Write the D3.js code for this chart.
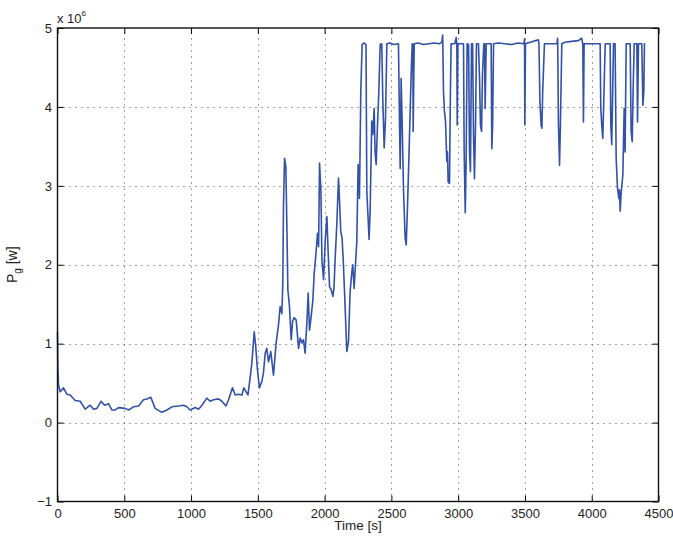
<!DOCTYPE html>
<html>
<head>
<meta charset="utf-8">
<script src="https://cdn.jsdelivr.net/npm/d3@7"></script>
<style>
  html, body { margin: 0; padding: 0; background: #fff; }
  svg { display: block; font-family: "Liberation Sans", Arial, Helvetica, sans-serif; }
</style>
</head>
<body>
<svg id="chart" width="673" height="542"></svg>
<script>
// Generator power time series: time [s] and power [×10^6 W]
const timeSec = [
  0, 3, 7.5, 20, 45, 70, 95, 132, 170, 207, 245, 270, 295, 327, 352, 382, 407, 432, 457, 507,
  532, 569, 607, 644, 669, 699, 731, 781, 819, 856, 906, 943, 969, 993, 1031, 1056, 1081, 1118, 1143, 1168,
  1206, 1231, 1261, 1281, 1310, 1331, 1355, 1381, 1395, 1426, 1443, 1455, 1473, 1484, 1497, 1512, 1530, 1542, 1555, 1567,
  1580, 1597, 1617, 1637, 1655, 1667, 1680, 1687, 1692, 1700, 1710, 1717, 1725, 1737, 1750, 1760, 1772, 1787, 1805, 1817,
  1830, 1842, 1854, 1867, 1877, 1887, 1899, 1912, 1922, 1935, 1947, 1955, 1962, 1972, 1980, 1992, 2005, 2017, 2025, 2037,
  2050, 2062, 2070, 2079, 2091, 2104, 2111, 2121, 2131, 2141, 2154, 2166, 2179, 2191, 2204, 2211, 2221, 2231, 2241, 2251,
  2261, 2271, 2281, 2292, 2303, 2310, 2316, 2323, 2333, 2341, 2353, 2361, 2371, 2378, 2386, 2396, 2406, 2416, 2428, 2436,
  2446, 2456, 2466, 2490, 2520, 2553, 2561, 2566, 2573, 2581, 2591, 2603, 2611, 2621, 2631, 2641, 2648, 2656, 2661, 2663,
  2671, 2700, 2740, 2780, 2820, 2860, 2878, 2884, 2890, 2897, 2905, 2915, 2920, 2925, 2935, 2942, 2947, 2975, 2985, 2990,
  2993, 2998, 3040, 3045, 3053, 3060, 3067, 3078, 3085, 3092, 3100, 3108, 3115, 3122, 3130, 3137, 3152, 3160, 3167, 3175,
  3182, 3192, 3197, 3202, 3210, 3247, 3252, 3258, 3265, 3300, 3350, 3400, 3450, 3492, 3497, 3499, 3504, 3540, 3580, 3600,
  3605, 3612, 3621, 3627, 3633, 3646, 3700, 3739, 3745, 3751, 3759, 3765, 3776, 3800, 3850, 3900, 3925, 3933, 3938, 3943,
  4000, 4063, 4068, 4075, 4083, 4092, 4101, 4138, 4143, 4150, 4157, 4163, 4175, 4183, 4193, 4203, 4208, 4213, 4220, 4233,
  4243, 4250, 4258, 4288, 4295, 4303, 4310, 4318, 4338, 4343, 4350, 4375, 4383, 4390, 4395, 4400
];
const powerMW = [
  1.15, 0.70, 0.48, 0.39, 0.44, 0.36, 0.35, 0.28, 0.27, 0.17, 0.22, 0.17, 0.18, 0.27, 0.22, 0.24, 0.16, 0.16, 0.19, 0.18,
  0.16, 0.20, 0.21, 0.29, 0.30, 0.32, 0.18, 0.13, 0.16, 0.20, 0.21, 0.22, 0.20, 0.16, 0.19, 0.17, 0.22, 0.31, 0.27, 0.29,
  0.30, 0.27, 0.21, 0.29, 0.44, 0.35, 0.36, 0.35, 0.44, 0.35, 0.58, 0.75, 1.15, 0.97, 0.67, 0.44, 0.52, 0.63, 0.88, 0.94,
  0.77, 0.90, 0.60, 1.01, 1.24, 1.47, 1.38, 1.77, 2.74, 3.35, 3.24, 2.53, 1.68, 1.47, 1.05, 1.28, 1.33, 1.30, 0.94, 1.07,
  1.01, 1.05, 0.88, 1.26, 1.64, 1.17, 1.34, 1.55, 1.89, 2.14, 2.40, 2.23, 3.29, 2.95, 2.06, 1.81, 2.32, 2.61, 2.23, 1.72,
  1.68, 1.60, 1.70, 2.08, 2.50, 3.10, 2.84, 2.42, 2.34, 2.00, 1.45, 0.90, 1.03, 1.66, 1.91, 2.00, 1.70, 2.00, 2.29, 3.27,
  2.84, 4.20, 4.79, 4.81, 4.80, 4.79, 2.93, 2.68, 2.32, 2.68, 3.82, 3.65, 3.98, 3.43, 3.27, 3.77, 4.20, 4.79, 4.80, 4.07,
  3.48, 3.86, 4.80, 4.81, 4.79, 4.80, 3.77, 3.22, 4.36, 3.77, 2.93, 2.34, 2.25, 2.76, 3.35, 3.98, 4.41, 4.80, 4.79, 3.69,
  4.80, 4.81, 4.79, 4.80, 4.81, 4.80, 4.82, 4.91, 4.20, 3.95, 3.82, 3.31, 3.43, 3.05, 3.03, 4.20, 4.80, 4.80, 4.88, 4.80,
  3.77, 4.80, 4.80, 3.43, 2.66, 3.35, 4.80, 4.79, 3.43, 3.18, 4.80, 4.80, 3.64, 3.09, 3.77, 4.80, 4.80, 4.36, 3.77, 3.69,
  4.41, 4.80, 4.80, 3.98, 4.80, 4.80, 3.47, 3.77, 4.80, 4.81, 4.80, 4.79, 4.81, 4.80, 4.86, 3.77, 4.80, 4.82, 4.84, 4.85,
  4.80, 4.07, 3.77, 3.73, 4.20, 4.80, 4.80, 4.80, 4.87, 3.77, 3.26, 3.73, 4.80, 4.82, 4.83, 4.84, 4.87, 4.80, 3.81, 4.80,
  4.80, 4.80, 3.98, 3.77, 3.60, 4.20, 4.80, 4.80, 3.77, 3.52, 4.20, 4.80, 4.80, 3.35, 2.97, 2.84, 2.95, 2.68, 2.90, 3.14,
  3.98, 3.43, 4.80, 4.80, 3.69, 3.56, 4.20, 4.80, 4.80, 3.81, 4.80, 4.80, 4.02, 4.19, 4.80, 4.80
];
const xTicks = [0, 500, 1000, 1500, 2000, 2500, 3000, 3500, 4000, 4500];
const yTicks = [-1, 0, 1, 2, 3, 4, 5];

const svg = d3.select("#chart");
const plotL = 57.5, plotR = 658.5, plotT = 28, plotB = 501.5;

const x = d3.scaleLinear().domain([0, 4500]).range([plotL, plotR]);
const y = d3.scaleLinear().domain([-1, 5]).range([plotB, plotT]);

// dotted grid
const grid = svg.append("g").attr("stroke", "#444").attr("stroke-width", 1)
  .attr("stroke-dasharray", "1,5").attr("fill", "none");
grid.selectAll("line.gx").data(xTicks.slice(1, -1)).join("line")
  .attr("class", "gx")
  .attr("x1", d => Math.round(x(d)) + 0.5).attr("x2", d => Math.round(x(d)) + 0.5)
  .attr("y1", plotB).attr("y2", plotT);
grid.selectAll("line.gy").data(yTicks.slice(1, -1)).join("line")
  .attr("class", "gy")
  .attr("y1", d => Math.round(y(d)) + 0.5).attr("y2", d => Math.round(y(d)) + 0.5)
  .attr("x1", plotL).attr("x2", plotR);

// data line
const pts = timeSec.map((t, i) => [t, powerMW[i]]);
svg.append("path")
  .datum(pts)
  .attr("fill", "none")
  .attr("stroke", "#3152a8")
  .attr("stroke-width", 1.6)
  .attr("stroke-linejoin", "round")
  .attr("d", d3.line().x(d => x(d[0])).y(d => y(d[1])));

// axes with inward ticks on all four sides
const styleAxis = g => {
  g.select(".domain").remove();
  g.selectAll(".tick line").attr("stroke", "#000").attr("stroke-width", 1);
  g.selectAll(".tick text").attr("fill", "#222").attr("font-size", 13);
};
svg.append("g").attr("transform", `translate(0,${plotB})`)
  .call(d3.axisBottom(x).tickValues(xTicks).tickSize(-6).tickSizeOuter(0).tickPadding(7.5).tickFormat(d3.format("d")))
  .call(styleAxis);
svg.append("g").attr("transform", `translate(0,${plotT})`)
  .call(d3.axisTop(x).tickValues(xTicks).tickSize(-6).tickSizeOuter(0).tickFormat(""))
  .call(styleAxis);
svg.append("g").attr("transform", `translate(${plotL},0)`)
  .call(d3.axisLeft(y).tickValues(yTicks).tickSize(-6).tickSizeOuter(0).tickPadding(5.5).tickFormat(d3.format("d")))
  .call(styleAxis);
svg.append("g").attr("transform", `translate(${plotR},0)`)
  .call(d3.axisRight(y).tickValues(yTicks).tickSize(-6).tickSizeOuter(0).tickFormat(""))
  .call(styleAxis);

// frame
svg.append("rect")
  .attr("x", plotL).attr("y", plotT)
  .attr("width", plotR - plotL).attr("height", plotB - plotT)
  .attr("fill", "none").attr("stroke", "#111").attr("stroke-width", 1.4);

// exponent label
const ex = svg.append("text").attr("x", 57).attr("y", 22.5)
  .attr("font-size", 13).attr("fill", "#222");
ex.append("tspan").text("x 10");
ex.append("tspan").attr("font-size", 8).attr("dy", -7).text("6");

// axis titles
svg.append("text").attr("x", (plotL + plotR) / 2).attr("y", 530)
  .attr("text-anchor", "middle").attr("font-size", 13.5).attr("fill", "#222")
  .text("Time [s]");
const yl = svg.append("text")
  .attr("transform", `translate(17,${(plotT + plotB) / 2}) rotate(-90)`)
  .attr("text-anchor", "middle").attr("font-size", 14).attr("fill", "#222");
yl.append("tspan").text("P");
yl.append("tspan").attr("font-size", 10).attr("dy", 4).text("g");
yl.append("tspan").attr("dy", -4).text(" [w]");
</script>
</body>
</html>
